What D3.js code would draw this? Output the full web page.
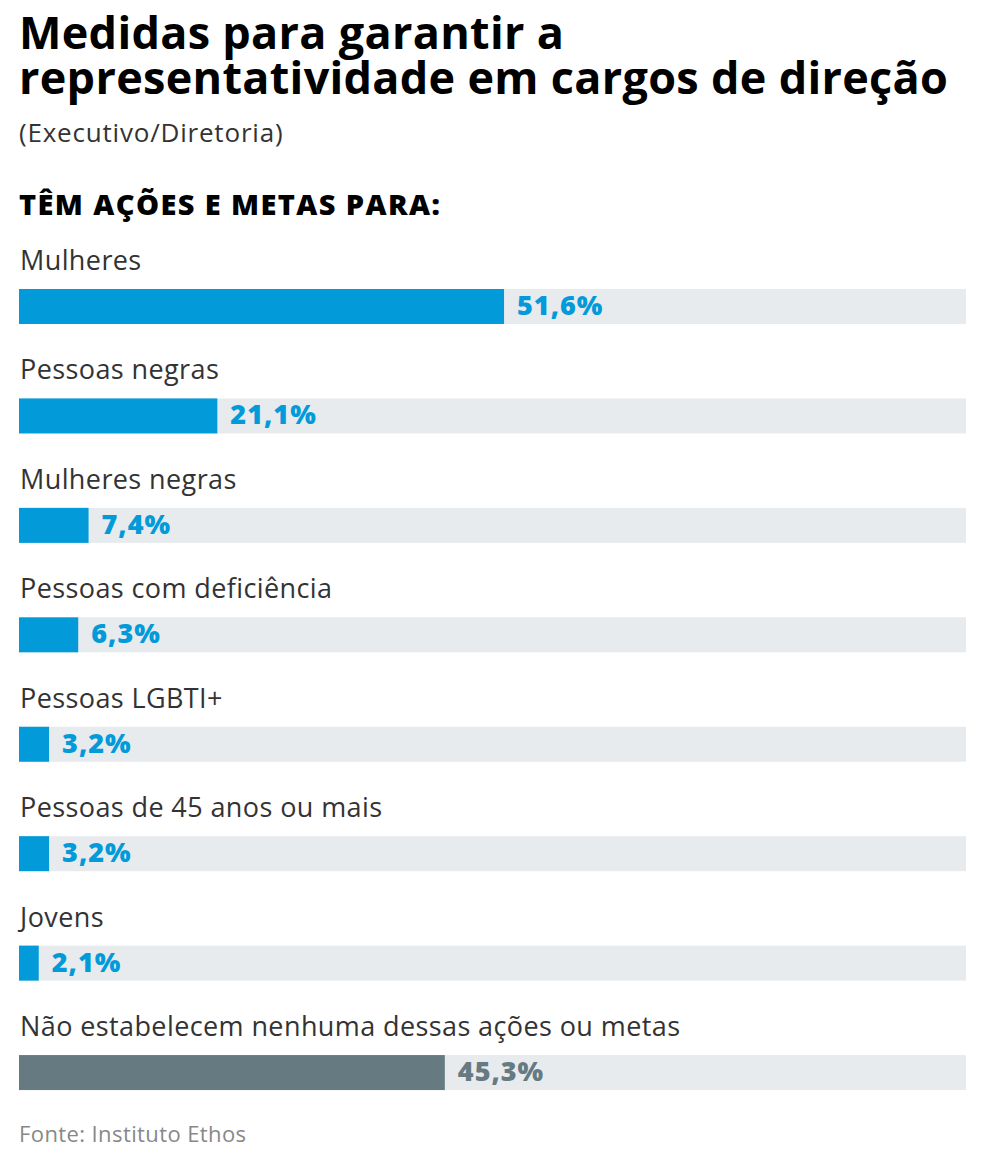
<!DOCTYPE html>
<html>
<head>
<meta charset="utf-8">
<script src="https://cdn.jsdelivr.net/npm/d3@7"></script>
<style>
  body { margin: 0; background: #fff; }
  svg text { font-family: 'Open Sans', sans-serif; }
</style>
</head>
<body>
<div id="chart"></div>
<script>
var categories = ['Mulheres', 'Pessoas negras', 'Mulheres negras', 'Pessoas com deficiência',
  'Pessoas LGBTI+', 'Pessoas de 45 anos ou mais', 'Jovens',
  'Não estabelecem nenhuma dessas ações ou metas'];
var values = [51.6, 21.1, 7.4, 6.3, 3.2, 3.2, 2.1, 45.3];
var highlight = [true, true, true, true, true, true, true, false];

var W = 984, H = 1164;
var m = {left: 19, right: 18};
var w = W - m.left - m.right;

var svg = d3.select('#chart').append('svg')
  .attr('width', W)
  .attr('height', H);

// titles
svg.append('text')
  .attr('x', m.left).attr('y', 49)
  .attr('font-size', 45).attr('font-weight', 700).attr('fill', '#000')
  .attr('letter-spacing', 0.3)
  .text('Medidas para garantir a');
svg.append('text')
  .attr('x', m.left).attr('y', 94)
  .attr('font-size', 45).attr('font-weight', 700).attr('fill', '#000')
  .attr('letter-spacing', 0.3)
  .text('representatividade em cargos de direção');
svg.append('text')
  .attr('x', m.left).attr('y', 142)
  .attr('font-size', 26).attr('fill', '#333')
  .attr('letter-spacing', 0.8)
  .text('(Executivo/Diretoria)');
svg.append('text')
  .attr('x', m.left).attr('y', 215)
  .attr('font-size', 29).attr('font-weight', 800).attr('fill', '#000')
  .attr('letter-spacing', 1.4)
  .text('TÊM AÇÕES E METAS PARA:');

var x = d3.scaleLinear().domain([0, 100]).range([0, 940]);
var y = d3.scaleBand().domain(categories).range([250, 1125.5]).paddingInner(0);

var row = svg.append('g')
  .attr('transform', 'translate(' + m.left + ',0)')
  .selectAll('g.row')
  .data(categories)
  .enter().append('g')
    .attr('class', 'row')
    .attr('transform', function(d) { return 'translate(0,' + y(d) + ')'; });

row.append('text')
  .attr('x', 1).attr('y', 20)
  .attr('font-size', 27).attr('fill', '#333')
  .attr('letter-spacing', 0.4)
  .text(function(d) { return d; });

row.append('rect')
  .attr('y', 39).attr('height', 35)
  .attr('width', w)
  .attr('fill', '#e8ebee');

row.append('rect')
  .attr('y', 39).attr('height', 35)
  .attr('width', function(d, i) { return x(values[i]); })
  .attr('fill', function(d, i) { return highlight[i] ? '#039ad9' : '#667a82'; });

row.append('text')
  .attr('x', function(d, i) { return x(values[i]) + 13; })
  .attr('y', 65)
  .attr('font-size', 27).attr('font-weight', 800)
  .attr('letter-spacing', 1)
  .attr('fill', function(d, i) { return highlight[i] ? '#039ad9' : '#667a82'; })
  .text(function(d, i) { return String(values[i]).replace('.', ',') + '%'; });

svg.append('text')
  .attr('x', m.left).attr('y', 1142)
  .attr('font-size', 22).attr('fill', '#888')
  .attr('letter-spacing', 0.4)
  .text('Fonte: Instituto Ethos');
</script>
</body>
</html>
